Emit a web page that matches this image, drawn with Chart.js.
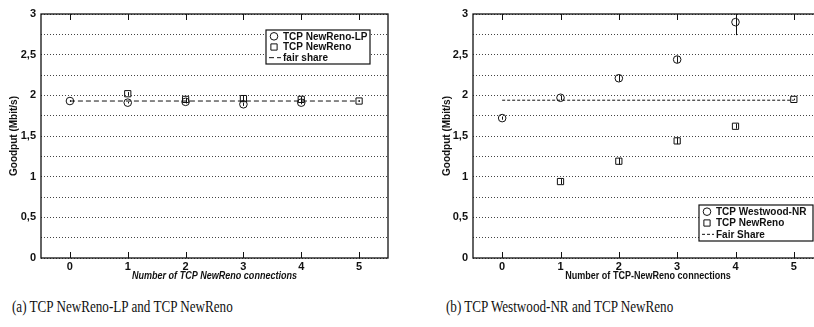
<!DOCTYPE html>
<html>
<head>
<meta charset="utf-8">
<script src="https://cdn.jsdelivr.net/npm/chart.js@4"></script>
<style>
  html, body { margin: 0; padding: 0; background: #fff; overflow: hidden; width: 814px; height: 327px; }
  .box { position: absolute; top: 0; }
  #boxA { left: 0; }
  #boxB { left: 410px; }
  .cap { position: absolute; top: 298px; font: 16px "Liberation Serif", "Times New Roman", serif; color: #111; white-space: nowrap; transform: scaleX(0.82); transform-origin: 0 0; }
</style>
</head>
<body>
<div class="box" id="boxA"><canvas id="chartA" width="400" height="290"></canvas></div>
<div class="box" id="boxB"><canvas id="chartB" width="420" height="290"></canvas></div>
<div class="cap" style="left:12px">(a) TCP NewReno-LP and TCP NewReno</div>
<div class="cap" style="left:446px">(b) TCP Westwood-NR and TCP NewReno</div>

<script>
// shared axes
const xTicks = [0, 1, 2, 3, 4, 5];
const yTickLabels = ["0", "0,5", "1", "1,5", "2", "2,5", "3"];

// (a) NewReno-LP vs NewReno
const lpX = [0, 1, 2, 3, 4];
const lpY = [1.93, 1.91, 1.92, 1.89, 1.91];
const lpErr = [0.01, 0.01, 0.02, 0.02, 0.02];
const nrAX = [1, 2, 3, 4, 5];
const nrAY = [2.02, 1.95, 1.96, 1.95, 1.93];
const nrAErr = [0.02, 0.02, 0.04, 0.03, 0.01];
const fairAX = [0, 5];
const fairAY = [1.93, 1.93];

// (b) Westwood-NR vs NewReno
const wwX = [0, 1, 2, 3, 4];
const wwY = [1.72, 1.97, 2.21, 2.44, 2.90];
const wwErr = [0.02, 0.03, 0.04, 0.04, 0.16];
const nrBX = [1, 2, 3, 4, 5];
const nrBY = [0.94, 1.19, 1.44, 1.62, 1.95];
const nrBErr = [0.03, 0.04, 0.04, 0.03, 0.01];
const fairBX = [0, 5];
const fairBY = [1.94, 1.94];

const SANS = '"Liberation Sans", Arial, sans-serif';
Chart.defaults.font.family = SANS;
Chart.defaults.color = "#111";

function pts(xs, ys) {
  return xs.map((x, i) => ({ x, y: ys[i] }));
}

const frame = {
  id: "frame",
  afterDatasetsDraw(chart) {
    const { ctx, chartArea: a, scales: { x } } = chart;
    ctx.save();
    ctx.strokeStyle = "#111";
    ctx.lineWidth = 1.3;
    ctx.strokeRect(a.left, a.top, a.right - a.left, a.bottom - a.top);
    ctx.lineWidth = 1;
    xTicks.forEach((v) => {
      const px = Math.round(x.getPixelForValue(v)) + 0.5;
      ctx.beginPath();
      ctx.moveTo(px, a.bottom); ctx.lineTo(px, a.bottom - 6);
      ctx.moveTo(px, a.top); ctx.lineTo(px, a.top + 6);
      ctx.stroke();
    });
    ctx.restore();
  }
};

// x title, slightly condensed like the scanned original
const xTitle = {
  id: "xTitle",
  afterDraw(chart, args, opts) {
    const { ctx, chartArea: a } = chart;
    ctx.save();
    ctx.translate((a.left + a.right) / 2, a.bottom + 18);
    ctx.scale(0.86, 1);
    ctx.font = (opts.italic ? "italic " : "") + "bold 10.5px " + SANS;
    ctx.fillStyle = "#111";
    ctx.textAlign = "center";
    ctx.textBaseline = "middle";
    ctx.fillText(opts.text, 0, 0);
    ctx.restore();
  }
};

const errorBars = {
  id: "errorBars",
  afterDatasetsDraw(chart) {
    const { ctx, scales: { x, y } } = chart;
    ctx.save();
    ctx.strokeStyle = "#111";
    ctx.lineWidth = 1;
    chart.data.datasets.forEach((ds) => {
      if (!ds.errors) return;
      ds.data.forEach((p, j) => {
        const e = ds.errors[j];
        if (!e) return;
        const px = Math.round(x.getPixelForValue(p.x)) + 0.5;
        ctx.beginPath();
        ctx.moveTo(px, y.getPixelForValue(Math.min(3, p.y + e)));
        ctx.lineTo(px, y.getPixelForValue(p.y - e));
        ctx.stroke();
      });
    });
    ctx.restore();
  }
};

const boxLegend = {
  id: "boxLegend",
  afterDraw(chart, args, opts) {
    const { ctx, chartArea: a } = chart;
    const left = a.right - opts.right - opts.w;
    const top = opts.top != null ? a.top + opts.top : a.bottom - opts.bottom - opts.h;
    ctx.save();
    ctx.fillStyle = "#fff";
    ctx.fillRect(left, top, opts.w, opts.h);
    ctx.strokeStyle = "#111";
    ctx.lineWidth = 1.2;
    ctx.strokeRect(left, top, opts.w, opts.h);
    ctx.font = "bold 10px " + SANS;
    ctx.textBaseline = "middle";
    const rowH = (opts.h - 2) / 3;
    chart.data.datasets.forEach((ds, i) => {
      const cy = top + 1 + rowH * (i + 0.5);
      const mx = left + 8;
      ctx.lineWidth = 1;
      ctx.strokeStyle = "#111";
      if (ds.type === "line") {
        ctx.setLineDash(ds.borderDash);
        ctx.beginPath();
        ctx.moveTo(left + 3, cy); ctx.lineTo(left + 15, cy);
        ctx.stroke();
        ctx.setLineDash([]);
      } else {
        ctx.fillStyle = "#fff";
        Chart.helpers.drawPoint(ctx, { pointStyle: ds.pointStyle, radius: ds.pointRadius, borderWidth: 1 }, mx, cy);
      }
      ctx.fillStyle = "#111";
      ctx.fillText(ds.label, left + opts.textX, cy + 0.5);
    });
    ctx.restore();
  }
};

function makeChart(id, sets, titleText, italic, cfg) {
  return new Chart(document.getElementById(id), {
    type: "scatter",
    data: {
      datasets: [
        {
          label: sets[0].label, data: sets[0].data, errors: sets[0].err,
          pointStyle: "circle", pointRadius: 3.8, borderColor: "#111", backgroundColor: "rgba(0,0,0,0)", borderWidth: 1
        },
        {
          label: sets[1].label, data: sets[1].data, errors: sets[1].err,
          pointStyle: "rect", pointRadius: 4.4, borderColor: "#111", backgroundColor: "rgba(0,0,0,0)", borderWidth: 1
        },
        {
          type: "line", label: sets[2].label, data: sets[2].data,
          borderColor: "#111", borderWidth: 1, borderDash: cfg.dash, pointRadius: 0, fill: false
        }
      ]
    },
    options: {
      responsive: false,
      animation: false,
      layout: { padding: { top: 14, right: cfg.padRight, left: 0, bottom: 0 } },
      plugins: {
        legend: { display: false },
        tooltip: { enabled: false },
        boxLegend: cfg.legend,
        xTitle: { text: titleText, italic }
      },
      scales: {
        x: {
          type: "linear", min: -0.5, max: 5.5,
          afterBuildTicks: (s) => { s.ticks = xTicks.map((v) => ({ value: v })); },
          afterFit: (s) => { s.height = 32; },
          grid: { display: false, drawTicks: false },
          border: { display: false },
          ticks: { padding: 2, font: { size: 11, weight: "bold" } }
        },
        y: {
          min: 0, max: 3,
          afterFit: (s) => { s.width = cfg.yWidth; },
          ticks: {
            stepSize: 0.25, padding: 5, font: { size: 11, weight: "bold" },
            callback: (v) => (Math.abs(v * 2 - Math.round(v * 2)) < 1e-6 ? yTickLabels[Math.round(v * 2)] : "")
          },
          grid: { color: "#444", lineWidth: 1, drawTicks: false },
          border: { display: false, dash: [1, 2] },
          title: {
            display: true, text: "Goodput (Mbit/s)", padding: { top: cfg.yTitlePad, bottom: 0 },
            font: { size: 10, weight: "bold" }
          }
        }
      }
    },
    plugins: [frame, errorBars, boxLegend, xTitle]
  });
}

makeChart("chartA", [
  { label: "TCP NewReno-LP", data: pts(lpX, lpY), err: lpErr },
  { label: "TCP NewReno", data: pts(nrAX, nrAY), err: nrAErr },
  { label: "fair share", data: pts(fairAX, fairAY) }
], "Number of TCP NewReno connections", true, {
  padRight: 12, yWidth: 41, yTitlePad: 8, dash: [5, 3],
  legend: { right: 18, top: 16, w: 104, h: 34, textX: 17 }
});

makeChart("chartB", [
  { label: "TCP Westwood-NR", data: pts(wwX, wwY), err: wwErr },
  { label: "TCP NewReno", data: pts(nrBX, nrBY), err: nrBErr },
  { label: "Fair Share", data: pts(fairBX, fairBY) }
], "Number of TCP-NewReno connections", false, {
  padRight: 7, yWidth: 63, yTitlePad: 31, dash: [3, 2],
  legend: { right: 10, bottom: 17, w: 114, h: 36, textX: 17 }
});
</script>
</body>
</html>
